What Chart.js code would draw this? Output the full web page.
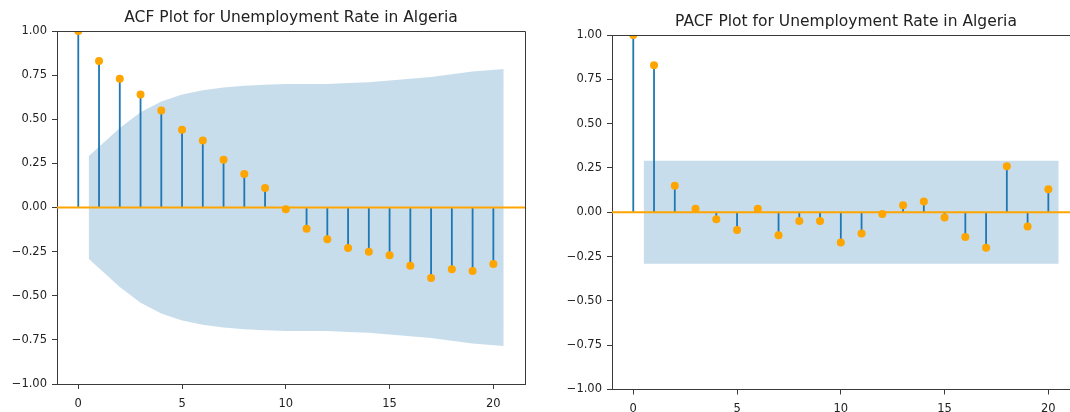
<!DOCTYPE html>
<html>
<head>
<meta charset="utf-8">
<script src="https://cdn.jsdelivr.net/npm/chart.js@4.4.0/dist/chart.umd.min.js"></script>
<style>
  html, body { margin: 0; padding: 0; background: #fff; overflow: hidden; width: 1070px; height: 412px; }
  #acfChart { position: absolute; left: 0; top: 0; }
  #pacfChart { position: absolute; left: 555px; top: 0; }
</style>
</head>
<body>
<canvas id="acfChart" width="545" height="412"></canvas>
<canvas id="pacfChart" width="545" height="412"></canvas>
<script>
// ========================
// DATA
// ========================
const LAGS = [0, 1, 2, 3, 4, 5, 6, 7, 8, 9, 10, 11, 12, 13, 14, 15, 16, 17, 18, 19, 20];

const ACF_VALUES = [1.0, 0.83, 0.73, 0.64, 0.55, 0.44, 0.38, 0.27, 0.19, 0.11, -0.01,
  -0.12, -0.18, -0.23, -0.25, -0.27, -0.33, -0.40, -0.35, -0.36, -0.32];

const PACF_VALUES = [1.0, 0.83, 0.15, 0.02, -0.04, -0.10, 0.02, -0.13, -0.05, -0.05, -0.17,
  -0.12, -0.01, 0.04, 0.06, -0.03, -0.14, -0.20, 0.26, -0.08, 0.13];

// confidence band: lag positions (ends pushed out by half a lag) and half-widths
const BAND_LAGS = [0.5, 2, 3, 4, 5, 6, 7, 8, 9, 10, 11, 12, 13, 14, 15, 16, 17, 18, 19, 20.5];
const ACF_BAND = [0.29, 0.45, 0.54, 0.60, 0.64, 0.665, 0.68, 0.69, 0.695, 0.70,
  0.70, 0.70, 0.705, 0.71, 0.72, 0.73, 0.74, 0.755, 0.77, 0.785];
const PACF_BAND = [0.29, 0.29, 0.29, 0.29, 0.29, 0.29, 0.29, 0.29, 0.29, 0.29,
  0.29, 0.29, 0.29, 0.29, 0.29, 0.29, 0.29, 0.29, 0.29, 0.29];

const X_TICKS = [0, 5, 10, 15, 20];
const Y_TICKS = [-1, -0.75, -0.5, -0.25, 0, 0.25, 0.5, 0.75, 1];
const X_MIN = -1.025;
const X_MAX = 21.525;

// ========================
// STYLE
// ========================
const FONT = "'DejaVu Sans', sans-serif";
const STEM_COLOR = "#1f77b4";
const DOT_COLOR = "#ffa500";
const BAND_COLOR = "rgba(31, 119, 180, 0.25)";
const AXIS_COLOR = "#3a3a3a";
const TEXT_COLOR = "#222";

// top + right spines (matplotlib box)
const framePlugin = {
  id: "frame",
  afterDraw(chart, args, opts) {
    const { ctx, chartArea: a } = chart;
    ctx.save();
    ctx.strokeStyle = AXIS_COLOR;
    ctx.lineWidth = 1;
    ctx.beginPath();
    ctx.moveTo(a.left, a.top + 0.5);
    ctx.lineTo(a.right + 0.5, a.top + 0.5);
    if (opts.right) ctx.lineTo(a.right + 0.5, a.bottom);
    ctx.stroke();
    ctx.restore();
  }
};

function stemPoints(values) {
  const pts = [];
  LAGS.forEach((lag, i) => {
    pts.push({ x: lag, y: 0 }, { x: lag, y: values[i] }, { x: lag, y: null });
  });
  return pts;
}

function fmtY(v) {
  return v.toFixed(2).replace("-", "\u2212");
}

function drawCorrChart(canvasId, title, values, band, geo) {
  const ctx = document.getElementById(canvasId).getContext("2d");
  return new Chart(ctx, {
    type: "line",
    data: {
      datasets: [
        { // markers
          data: LAGS.map((lag, i) => ({ x: lag, y: values[i] })),
          showLine: false,
          pointRadius: 4,
          pointBackgroundColor: DOT_COLOR,
          pointBorderWidth: 0
        },
        { // zero line
          data: [{ x: X_MIN, y: 0 }, { x: X_MAX, y: 0 }],
          borderColor: DOT_COLOR,
          borderWidth: 2,
          pointRadius: 0
        },
        { // stems
          data: stemPoints(values),
          borderColor: STEM_COLOR,
          borderWidth: 1.8,
          pointRadius: 0,
          spanGaps: false
        },
        { // band upper
          data: BAND_LAGS.map((lag, i) => ({ x: lag, y: band[i] })),
          borderWidth: 0,
          pointRadius: 0,
          fill: "+1",
          backgroundColor: BAND_COLOR
        },
        { // band lower
          data: BAND_LAGS.map((lag, i) => ({ x: lag, y: -band[i] })),
          borderWidth: 0,
          pointRadius: 0,
          fill: false
        }
      ]
    },
    options: {
      responsive: false,
      animation: false,
      devicePixelRatio: 1,
      layout: { padding: { left: 0, right: geo.padRight, top: 0, bottom: 0 } },
      plugins: {
        legend: { display: false },
        tooltip: { enabled: false },
        frame: { right: geo.rightSpine },
        title: {
          display: true,
          text: title,
          fullSize: false,
          color: TEXT_COLOR,
          font: { family: FONT, size: 15.5, weight: "normal" },
          padding: { top: geo.titleTop, bottom: geo.titleBottom }
        }
      },
      scales: {
        x: {
          type: "linear",
          min: X_MIN,
          max: X_MAX,
          afterBuildTicks: (s) => { s.ticks = X_TICKS.map((v) => ({ value: v })); },
          afterFit: (s) => { s.height = geo.xHeight; },
          ticks: {
            color: TEXT_COLOR,
            font: { family: FONT, size: 11.5 },
            padding: geo.xPad,
            maxRotation: 0,
            autoSkip: false
          },
          grid: { drawOnChartArea: false, drawTicks: true, tickLength: 5, color: AXIS_COLOR, lineWidth: 1 },
          border: { display: true, color: AXIS_COLOR, width: 1 }
        },
        y: {
          min: -1,
          max: 1,
          afterBuildTicks: (s) => { s.ticks = Y_TICKS.map((v) => ({ value: v })); },
          afterFit: (s) => { s.width = geo.yWidth; },
          ticks: {
            color: TEXT_COLOR,
            font: { family: FONT, size: 11.5 },
            padding: 5,
            callback: (v) => fmtY(v)
          },
          grid: { drawOnChartArea: false, drawTicks: true, tickLength: 5, color: AXIS_COLOR, lineWidth: 1 },
          border: { display: true, color: AXIS_COLOR, width: 1 }
        }
      }
    },
    plugins: [framePlugin]
  });
}

drawCorrChart("acfChart", "ACF Plot for Unemployment Rate in Algeria", ACF_VALUES, ACF_BAND,
  { yWidth: 57, xHeight: 28, xPad: 8, padRight: 20, titleTop: 9, titleBottom: 3.4, rightSpine: true });

drawCorrChart("pacfChart", "PACF Plot for Unemployment Rate in Algeria", PACF_VALUES, PACF_BAND,
  { yWidth: 57, xHeight: 22.5, xPad: 8, padRight: 20, titleTop: 13, titleBottom: 3.4, rightSpine: false });
</script>
</body>
</html>
